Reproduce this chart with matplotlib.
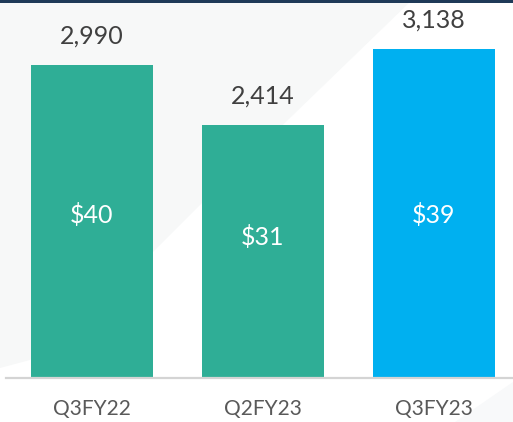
import matplotlib
matplotlib.use("Agg")
import matplotlib.pyplot as plt
from matplotlib.patches import Polygon, Rectangle

plt.rcParams['font.family'] = ['Lato', 'DejaVu Sans']

categories = ['Q3FY22', 'Q2FY23', 'Q3FY23']
volumes = [2990, 2414, 3138]
inner_labels = ['$40', '$31', '$39']
inner_y = [1560, 1350, 1560]
colors = ['#2FAE96', '#2FAE96', '#00B0F0']

W, H = 513, 422
fig = plt.figure(figsize=(W / 100, H / 100), dpi=100)
fig.patch.set_facecolor('white')

# background shapes, in pixel coords from the top-left
bg = fig.add_axes([0, 0, 1, 1])
bg.set_xlim(0, W)
bg.set_ylim(H, 0)
bg.axis('off')
bg.add_patch(Polygon([(0, 0), (412, 0), (200, 205), (100, 305), (30, 360), (0, 368)],
                     closed=True, facecolor='#F7F8F8', edgecolor='none'))
bg.add_patch(Polygon([(W, 382), (W, H), (455, H)], closed=True,
                     facecolor='#F8F9FA', edgecolor='none'))
bg.add_patch(Rectangle((0, 0), W, 2.5, facecolor='#1F3A58', edgecolor='none'))

ax = fig.add_axes([6 / W, 44 / H, 507 / W, 376 / H])
ax.patch.set_alpha(0)
x = range(len(categories))
bars = ax.bar(x, volumes, width=0.715, color=colors, zorder=2)
ax.set_xlim(-0.503, 2.462)
ax.set_ylim(0, 3590)

for b, v in zip(bars, volumes):
    ax.annotate(f'{v:,}', (b.get_x() + b.get_width() / 2, v), xytext=(0, 21),
                textcoords='offset points', ha='center', va='center',
                fontsize=18, color='#404040')
for i, (lab, yy) in enumerate(zip(inner_labels, inner_y)):
    ax.text(i, yy, lab, ha='center', va='center', fontsize=18, color='white')

for s in ['top', 'right', 'left']:
    ax.spines[s].set_visible(False)
ax.spines['bottom'].set_color('#D4D4D4')
ax.spines['bottom'].set_linewidth(1.6)
ax.set_yticks([])
ax.set_xticks(list(x))
ax.set_xticklabels(categories, fontsize=15, color='#595959')
ax.tick_params(axis='x', length=0, pad=15)

fig.savefig('out.png', dpi=100)
